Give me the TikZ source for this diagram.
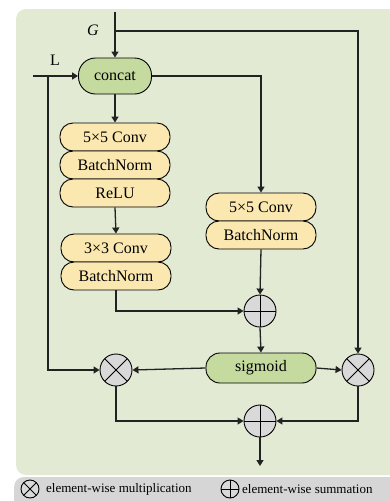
\documentclass[tikz,border=0pt]{standalone}
\usepackage{fontspec}
\setmainfont{Liberation Serif}
\usetikzlibrary{arrows.meta}
\definecolor{panel}{HTML}{E2EAD4}
\definecolor{gnode}{HTML}{C5DA9E}
\definecolor{ynode}{HTML}{FAE8B0}
\definecolor{opgray}{HTML}{D9D9D9}
\definecolor{legbar}{HTML}{D6D6D6}
\definecolor{ln}{HTML}{222222}
\begin{document}
\begin{tikzpicture}[x=1pt,y=-1pt,
  every node/.style={font=\fontsize{16}{19}\selectfont, inner sep=0pt},
  conn/.style={draw=ln, line width=1.3pt, -{Triangle[length=6pt,width=7pt]}},
  capbox/.style={draw=black, line width=0.9pt, rounded corners=13pt, minimum width=110pt, minimum height=28pt},
  ybox/.style={capbox, fill=ynode},
  gbox/.style={capbox, fill=gnode},
  opplus/.style={circle, draw=black, line width=0.9pt, fill=opgray, minimum size=32pt,
    path picture={\draw[black,line width=0.9pt] (path picture bounding box.north) -- (path picture bounding box.south) (path picture bounding box.west) -- (path picture bounding box.east);}},
  opcross/.style={circle, draw=black, line width=0.9pt, fill=opgray, minimum size=32pt,
    path picture={\draw[black,line width=0.9pt] (path picture bounding box.north west) -- (path picture bounding box.south east) (path picture bounding box.south west) -- (path picture bounding box.north east);}},
  legop/.style={minimum size=18pt, line width=0.9pt, fill=opgray}
]
\useasboundingbox (0,0) rectangle (390,501);
\begin{scope}
\clip (0,0) rectangle (390,501);
\fill[panel, rounded corners=10pt] (16,9) rectangle (410,475);
\fill[legbar, rounded corners=10pt] (14,477) rectangle (410,512);
\end{scope}

% nodes
\node[gbox, minimum width=73pt, minimum height=36pt, rounded corners=17pt] (concat) at (115,76) {concat};
\node[ybox] (lconv) at (115,137) {5×5 Conv};
\node[ybox] (lbn) at (115,165) {BatchNorm};
\node[ybox] (relu) at (115,193) {ReLU};
\node[ybox] (conv3) at (116,248) {3×3 Conv};
\node[ybox] (bn2) at (116,276) {BatchNorm};
\node[ybox] (rconv) at (261,207) {5×5 Conv};
\node[ybox] (rbn) at (261,235) {BatchNorm};
\node[opplus] (plus1) at (260,311) {};
\node[gbox, minimum height=30pt, rounded corners=14pt] (sigmoid) at (261,368) {sigmoid};
\node[opcross] (crossL) at (116,370) {};
\node[opcross] (crossR) at (358,370) {};
\node[opplus] (plus2) at (260,421) {};

\node (glabel) at (93,30) {\itshape G};
\node (llabel) at (55,60) {L};

\coordinate (gtop) at (115,12);
\coordinate (gsplit) at (115,31);
\coordinate (lstart) at (33,76);
\coordinate (lsplit) at (48,76);
\coordinate (out) at (260,466);

% connectors
\draw[conn] (gtop) -- (concat.north);
\draw[conn] (gsplit) -| (crossR.north);
\draw[conn] (lstart) -- (concat.west);
\draw[conn] (lsplit) |- (crossL.west);
\draw[conn] (concat.south) -- (lconv.north);
\draw[conn] (concat.east) -| (rconv.north);
\draw[conn] (relu.south) -- (conv3.north);
\draw[conn] (bn2.south) |- (plus1.west);
\draw[conn] (rbn.south) -- (plus1.north);
\draw[conn] (plus1.south) -- (sigmoid.north);
\draw[conn] (sigmoid.west) -- (crossL.east);
\draw[conn] (sigmoid.east) -- (crossR.west);
\draw[conn] (crossL.south) |- (plus2.west);
\draw[conn] (crossR.south) |- (plus2.east);
\draw[conn] (plus2.south) -- (out);

% legend
\node[opcross, legop] (legx) at (30,489) {};
\node[anchor=west, font=\fontsize{13}{15}\selectfont] (legxt) at (46,489) {element-wise multiplication};
\node[opplus, legop] (legp) at (230,489) {};
\node[anchor=west, font=\fontsize{13}{15}\selectfont] (legpt) at (242,489) {element-wise summation};
\end{tikzpicture}
\end{document}
